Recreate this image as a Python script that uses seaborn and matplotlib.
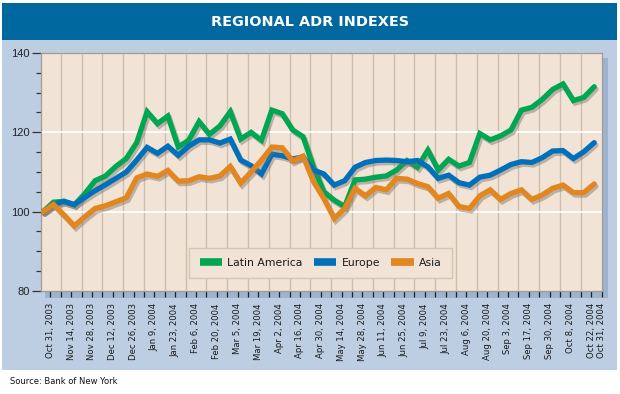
import numpy as np
import pandas as pd
import matplotlib
matplotlib.use('Agg')
import matplotlib.pyplot as plt
import matplotlib.patheffects as pe
from matplotlib.lines import Line2D
from matplotlib.patches import Rectangle
from matplotlib import font_manager
import seaborn as sns

# weekly index values (Oct 31, 2003 = 100)
latin_america = [100, 102.4, 102.6, 101.7, 104.5, 107.8, 109, 111.4, 113.4, 117.4,
                 125.2, 122.2, 124.1, 116.3, 118, 122.7, 119.5, 121.6, 125.2, 118.3,
                 120, 118, 125.6, 124.7, 120.6, 118.9, 111.3, 105, 102.9, 101.3,
                 108, 108.2, 108.7, 109, 110.5, 112.9, 111.2, 115.5, 110.5, 113.2,
                 111.5, 112.4, 119.7, 118.1, 119.1, 120.6, 125.6, 126.3, 128.3, 130.8,
                 132.2, 128, 128.8, 131.5]
europe = [100, 101.8, 102.6, 101.8, 103.6, 105.3, 106.8, 108.4, 110, 113,
          116.2, 114.7, 116.5, 114.2, 116.5, 118.1, 118.1, 117.3, 118.3, 113,
          111.6, 109.5, 114.5, 114.1, 113.3, 113.8, 110.5, 109.5, 106.7, 107.8,
          111.2, 112.4, 112.9, 113, 112.9, 112.6, 112.9, 111.3, 108.4, 109.2,
          107.3, 106.7, 108.7, 109.2, 110.5, 111.9, 112.6, 112.4, 113.6, 115.3,
          115.4, 113.4, 115.1, 117.4]
asia = [100, 101.8, 99.2, 96.4, 98.7, 100.8, 101.5, 102.5, 103.5, 108.5,
        109.5, 108.9, 110.4, 107.7, 107.8, 108.8, 108.4, 109, 111.4, 107.2,
        110, 113, 116.3, 116.1, 112.8, 114, 107.6, 103.3, 98.3, 100.8,
        105.9, 104, 106.1, 105.5, 108.4, 108.2, 107.1, 106.3, 103.4, 104.6,
        101.3, 100.8, 104, 105.5, 103.1, 104.6, 105.5, 103.1, 104.2, 105.9,
        106.7, 104.8, 104.8, 107]

regions = ['Latin America', 'Europe', 'Asia']
colors = ['#00A651', '#0070BB', '#E2861F']

date_labels = ['Oct 31, 2003', 'Nov 14, 2003', 'Nov 28, 2003', 'Dec 12, 2003',
               'Dec 26, 2003', 'Jan 9, 2004', 'Jan 23, 2004', 'Feb 6, 2004',
               'Feb 20, 2004', 'Mar 5, 2004', 'Mar 19, 2004', 'Apr 2, 2004',
               'Apr 16, 2004', 'Apr 30, 2004', 'May 14, 2004', 'May 28, 2004',
               'Jun 11, 2004', 'Jun 25, 2004', 'Jul 9, 2004', 'Jul 23, 2004',
               'Aug 6, 2004', 'Aug 20, 2004', 'Sep 3, 2004', 'Sep 17, 2004',
               'Sep 30, 2004', 'Oct 8, 2004', 'Oct 22, 2004', 'Oct 31, 2004']

W, H = 620, 394


def fx(px):
    return px / W


def fy(py):
    return 1 - py / H


sns.set_style('white')

# pick a narrow face if there is one
names = {f.name for f in font_manager.fontManager.ttflist}
if 'Liberation Sans Narrow' in names:
    narrow, scale = 'Liberation Sans Narrow', 1.0
else:
    narrow, scale = 'DejaVu Sans', 0.8
plt.rcParams['font.family'] = [narrow, 'DejaVu Sans']

df = pd.DataFrame({
    'week': np.tile(np.arange(len(asia)), 3),
    'value': latin_america + europe + asia,
    'region': np.repeat(regions, len(asia)),
})

fig = plt.figure(figsize=(6.2, 3.94), dpi=100, facecolor='white')

# panel, title bar and the 3d-ish shadow band behind the plot
fig.patches.append(Rectangle((fx(2), fy(370)), 615 / W, 330 / H, transform=fig.transFigure,
                             facecolor='#BDCEE3', edgecolor='none', zorder=-3))
fig.patches.append(Rectangle((fx(2), fy(40)), 615 / W, 37 / H, transform=fig.transFigure,
                             facecolor='#00679F', edgecolor='none', zorder=-2))
fig.patches.append(Rectangle((fx(45), fy(298)), 563 / W, 240 / H, transform=fig.transFigure,
                             facecolor='#9DB4D0', edgecolor='none', zorder=-1))

fig.text(fx(310), fy(22), 'REGIONAL ADR INDEXES', ha='center', va='center',
         color='white', fontweight='bold', fontsize=13 * scale)
fig.text(fx(10), fy(382), 'Source: Bank of New York', ha='left', va='center',
         color='#111111', fontsize=7.5 * scale)

ax = fig.add_axes([fx(40.5), fy(291), 561 / W, 238 / H])
ax.set_facecolor('#F1E4D7')

# vertical separators and white reference lines
for gx in 1.7 + 2 * np.arange(26):
    ax.axvline(gx, color='#CDBEAE', lw=1.0, zorder=0.5)
for gy in [100, 120]:
    ax.axhline(gy, color='white', lw=1.3, zorder=0.6)

shadow = [pe.SimpleLineShadow(offset=(1.3, -1.8), shadow_color='#7d7064', alpha=0.45),
          pe.Normal()]
sns.lineplot(data=df, x='week', y='value', hue='region', hue_order=regions,
             palette=dict(zip(regions, colors)), lw=3.8, legend=False, ax=ax,
             solid_joinstyle='miter', path_effects=shadow, zorder=3)

ax.set_xlim(-0.25, 53.7)
ax.set_ylim(80, 140)
ax.set_xlabel('')
ax.set_ylabel('')

ax.set_yticks([80, 100, 120, 140])
ax.set_yticks(np.arange(80, 141, 5), minor=True)
ax.tick_params(axis='y', which='major', left=True, length=6.5, width=0.9, color='#333333',
               labelsize=8, labelcolor='#222222', pad=1.5)
ax.tick_params(axis='y', which='minor', left=True, length=3.6, width=0.9, color='#333333')
for lab in ax.get_yticklabels():
    lab.set_family(['Liberation Sans', 'DejaVu Sans'])

major_x = list(0.7 + 2 * np.arange(26)) + [52.7, 53.7]
ax.set_xticks(major_x)
ax.set_xticklabels(date_labels, rotation=90)
ax.set_xticks(0.7 + np.arange(53), minor=True)
ax.tick_params(axis='x', which='both', bottom=True, length=4.3, width=0.9, color='#222222')
ax.tick_params(axis='x', which='major', labelsize=7.6 * scale, labelcolor='#1a1a1a', pad=4.5)

for side in ['left', 'top', 'right', 'bottom']:
    ax.spines[side].set_color('#A59A8D')
    ax.spines[side].set_linewidth(0.9)

handles = [Line2D([], [], color=c, lw=5.5, solid_capstyle='butt') for c in colors]
leg = ax.legend(handles, regions, loc='center', bbox_to_anchor=(0.499, 0.118), ncol=3,
                fontsize=9.8 * scale, frameon=True, fancybox=False, framealpha=1,
                handlelength=2.1, handletextpad=0.45, columnspacing=1.0, borderpad=0.95)
leg.get_frame().set_facecolor('#F1E4D7')
leg.get_frame().set_edgecolor('#D3C6B6')
for t in leg.get_texts():
    t.set_color('#1a1a1a')

plt.savefig('out.png', dpi=100)
plt.close()
